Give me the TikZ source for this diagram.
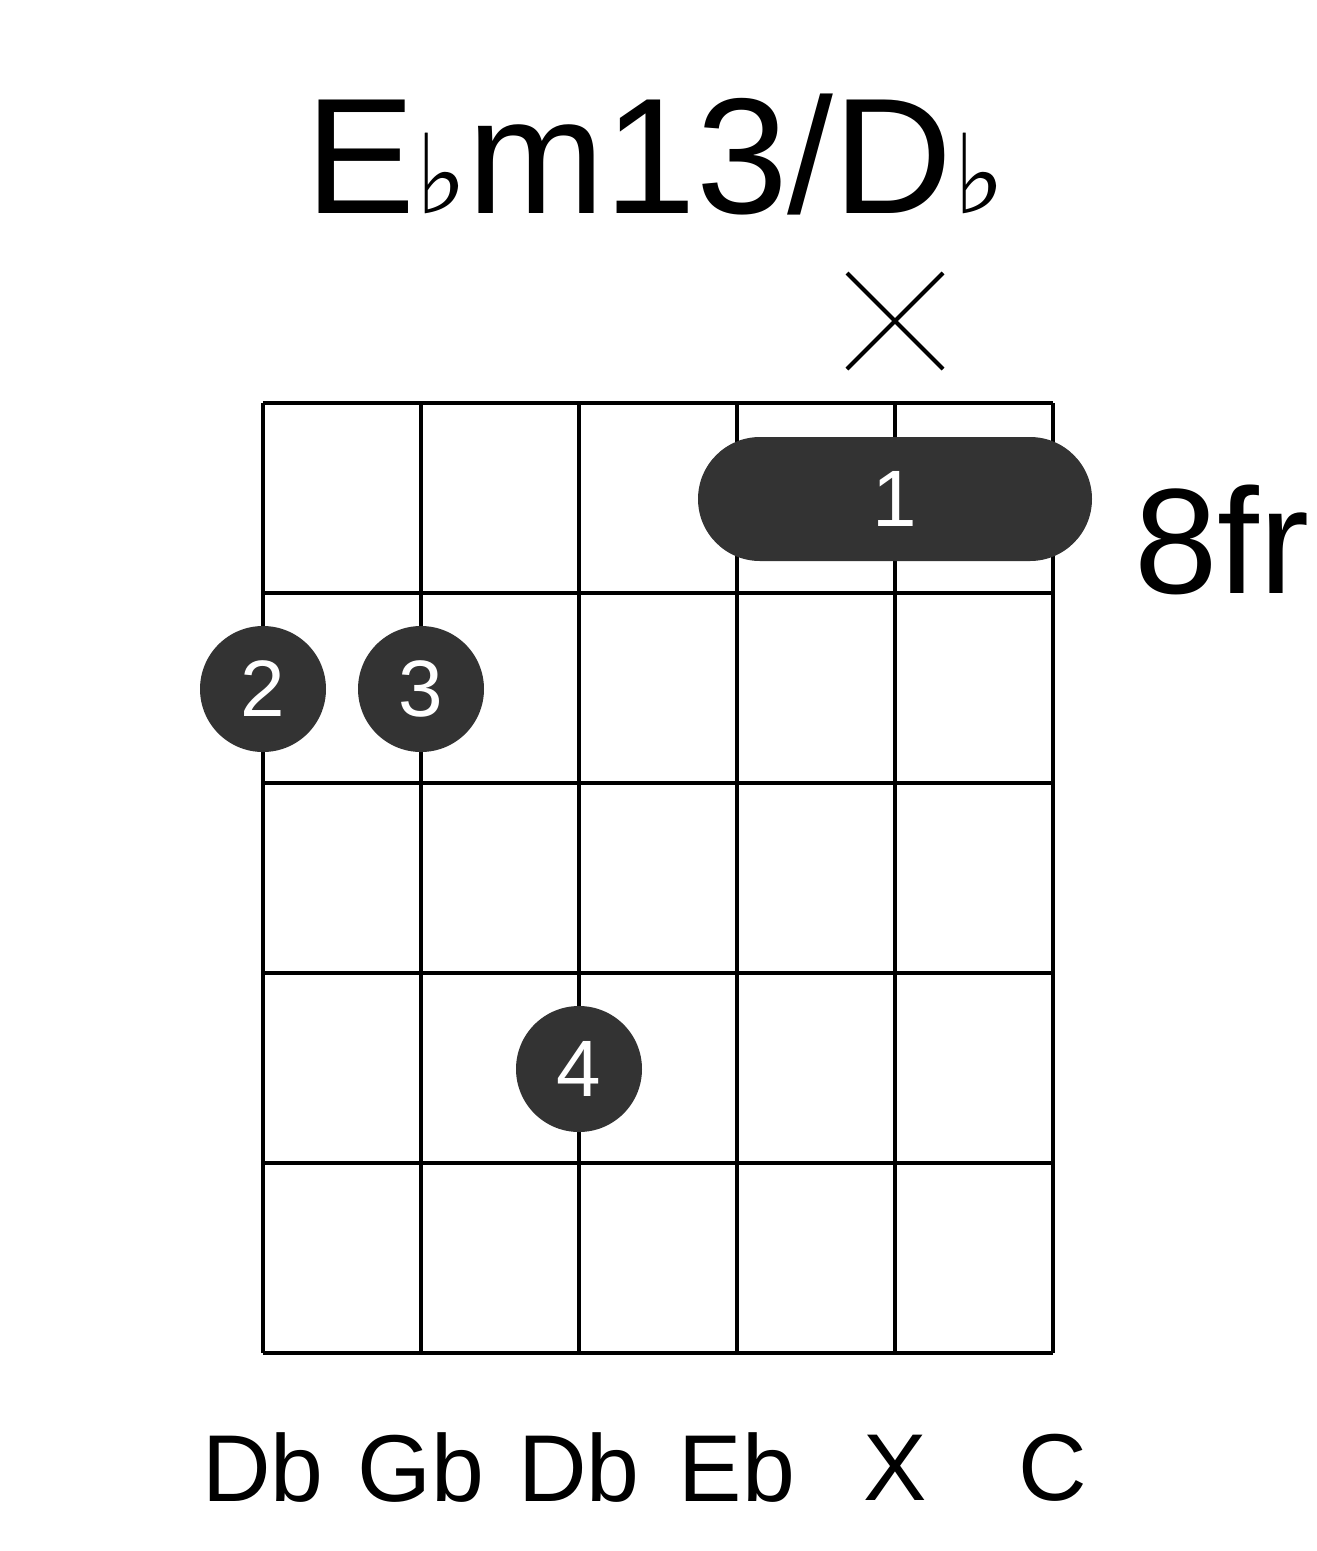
\documentclass[tikz,border=0pt]{standalone}
\usepackage{fontspec}
\setmainfont{Liberation Sans}
\newfontfamily\symfont{DejaVu Sans}
\definecolor{dotc}{HTML}{333333}
\begin{document}
\begin{tikzpicture}[x=1pt,y=-1pt,
  gridline/.style={line width=4pt,black},
  fingerdot/.style={circle,fill=dotc,minimum size=126pt,inner sep=0pt,text=white,font=\fontsize{80}{80}\selectfont},
  strlabel/.style={font=\fontsize{95}{95}\selectfont},
]
\useasboundingbox (0,0) rectangle (1317,1551);
\foreach \i in {0,...,5} {
  \draw[gridline] (263+158*\i,403) -- (263+158*\i,1353);
  \draw[gridline] (263,403+190*\i) -- (1053,403+190*\i);
}
\node[font=\fontsize{165}{165}\selectfont] (title) at (655,155) {E{\symfont\fontsize{110}{110}\selectfont ♭}m13/D{\symfont\fontsize{110}{110}\selectfont ♭}};
\draw[line width=4pt] (847,273) -- (943,369) (943,273) -- (847,369);
\node[draw=none,fill=dotc,rounded corners=62pt,minimum width=394pt,minimum height=124pt,inner sep=0pt] (barre) at (895,499) {};
\node[text=white,font=\fontsize{80}{80}\selectfont] (b1) at (895,499) {1};
\node[font=\fontsize{150}{150}\selectfont] (fr) at (1222,540) {8fr};
\node[fingerdot] (d2) at (263,689) {2};
\node[fingerdot] (d3) at (421,689) {3};
\node[fingerdot] (d4) at (579,1069) {4};
\foreach \t [count=\i from 0] in {Db,Gb,Db,Eb,X,C}
  \node[strlabel] (s\i) at (263+158*\i,1468) {\t};
\end{tikzpicture}
\end{document}
